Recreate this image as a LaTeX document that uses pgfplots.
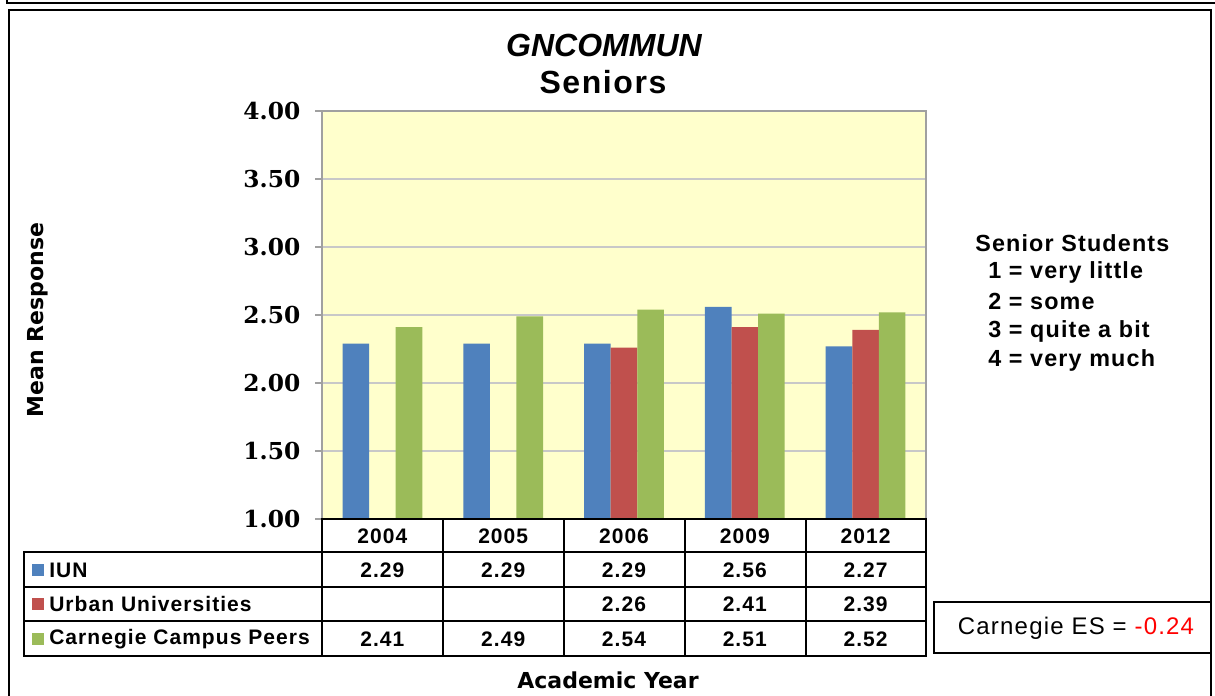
\documentclass[border=0pt]{standalone}
\usepackage{pgfplots}
\pgfplotsset{compat=1.18}
\usepackage{fontspec}
\setmainfont{Liberation Sans}
\newfontfamily\wide[LetterSpace=5.0]{Liberation Sans}
\newfontfamily\dvs{DejaVu Sans}
\newfontfamily\dvserif{DejaVu Serif}
\definecolor{cBlue}{HTML}{4F81BD}
\definecolor{cRed}{HTML}{C0504D}
\definecolor{cGreen}{HTML}{9BBB59}
\definecolor{cBg}{HTML}{FFFFCC}
\definecolor{cGrid}{HTML}{C8C8C8}
\definecolor{cAx}{HTML}{A0A0A0}
\begin{document}
\begin{tikzpicture}
\useasboundingbox (0,0) rectangle (911.25pt,522pt);
\begin{axis}[
  scale only axis,
  width=453pt, height=306pt,
  at={(241.5pt,132.75pt)}, anchor=south west,
  xmin=-0.5, xmax=4.5, ymin=1, ymax=4,
  xtick=\empty,
  ytick={1,1.5,2,2.5,3,3.5,4},
  ytick pos=left,
  tick align=outside,
  major tick length=5.25pt,
  tick style={draw=cAx, line width=0.8pt},
  ymajorgrids,
  grid style={draw=cGrid, line width=0.8pt},
  axis line style={draw=cAx, line width=1pt},
  axis background/.style={fill=cBg},
  yticklabel style={font=\dvserif\bfseries\fontsize{17.5}{18}\selectfont, xshift=-7.5pt, /pgf/number format/.cd, fixed, fixed zerofill, precision=2, assume math mode=true},
  bar width=0.22,
]
\addplot[ybar, bar width=0.22, bar shift=-0.22, fill=cBlue, draw=none] coordinates {(0,2.29) (1,2.29) (2,2.29) (3,2.56) (4,2.27)};
\addplot[ybar, bar width=0.22, bar shift=0, fill=cRed, draw=none] coordinates {(2,2.26) (3,2.41) (4,2.39)};
\addplot[ybar, bar width=0.22, bar shift=0.22, fill=cGreen, draw=none] coordinates {(0,2.41) (1,2.49) (2,2.54) (3,2.51) (4,2.52)};
\end{axis}
\begin{scope}[x=0.75pt, y=-0.75pt, yshift=522pt]
  % frames
  \draw[line width=1.5pt] (7,-5) -- (7,3) -- (1220,3);
  \draw[line width=1.5pt] (9,10) rectangle (1211,710);
  % table
  \begin{scope}[line width=1.1pt]
    \draw (322,519) rectangle (926,656);
    \draw (24,552) rectangle (926,656);
    \draw (24,587) -- (926,587);
    \draw (24,621) -- (926,621);
    \foreach \xx in {322,443,564,685,806} \draw (\xx,519) -- (\xx,656);
  \end{scope}
  \begin{scope}[font=\wide\bfseries\fontsize{15.75}{17}\selectfont]
    \foreach \lab [count=\i from 0] in {2004,2005,2006,2009,2012}
      \node at ({382.4+120.8*\i},536) {\lab};
    \foreach \lab [count=\i from 0] in {2.29,2.29,2.29,2.56,2.27}
      \node at ({382.4+120.8*\i},570) {\lab};
    \foreach \lab [count=\i from 2] in {2.26,2.41,2.39}
      \node at ({382.4+120.8*\i},604) {\lab};
    \foreach \lab [count=\i from 0] in {2.41,2.49,2.54,2.51,2.52}
      \node at ({382.4+120.8*\i},639) {\lab};
    \fill[cBlue] (32,564) rectangle (44,576);
    \fill[cRed] (32,598) rectangle (44,610);
    \fill[cGreen] (32,633) rectangle (44,645);
    \node[anchor=west, inner sep=0pt] at (49,570) {IUN};
    \node[anchor=west, inner sep=0pt] at (49,604) {Urban Universities};
    \node[anchor=west, inner sep=0pt] at (49,639) {Carnegie Campus Peers};
  \end{scope}
  % titles
  \node[font=\bfseries\itshape\fontsize{24}{26}\selectfont] at (604,45) {GNCOMMUN};
  \node[font=\wide\bfseries\fontsize{24}{26}\selectfont] at (603,82) {Seniors};
  \node[font=\dvs\bfseries\fontsize{16.5}{18}\selectfont, rotate=90] at (38,320) {Mean Response};
  \node[font=\dvs\bfseries\fontsize{16.5}{18}\selectfont] at (608,680) {Academic Year};
  % legend text
  \begin{scope}[font=\wide\bfseries\fontsize{17.5}{19}\selectfont]
    \node[anchor=west, inner sep=0pt] at (975,243) {Senior Students};
    \node[anchor=west, inner sep=0pt] at (988,272) {1 = very little};
    \node[anchor=west, inner sep=0pt] at (988,301) {2 = some};
    \node[anchor=west, inner sep=0pt] at (988,331) {3 = quite a bit};
    \node[anchor=west, inner sep=0pt] at (988,360) {4 = very much};
  \end{scope}
  % ES box
  \draw[line width=1.1pt, fill=white] (934,602) rectangle (1211,653);
  \node[font=\wide\fontsize{18}{20}\selectfont] at (1076,628) {Carnegie ES = \textcolor{red}{-0.24}};
\end{scope}
\end{tikzpicture}
\end{document}
